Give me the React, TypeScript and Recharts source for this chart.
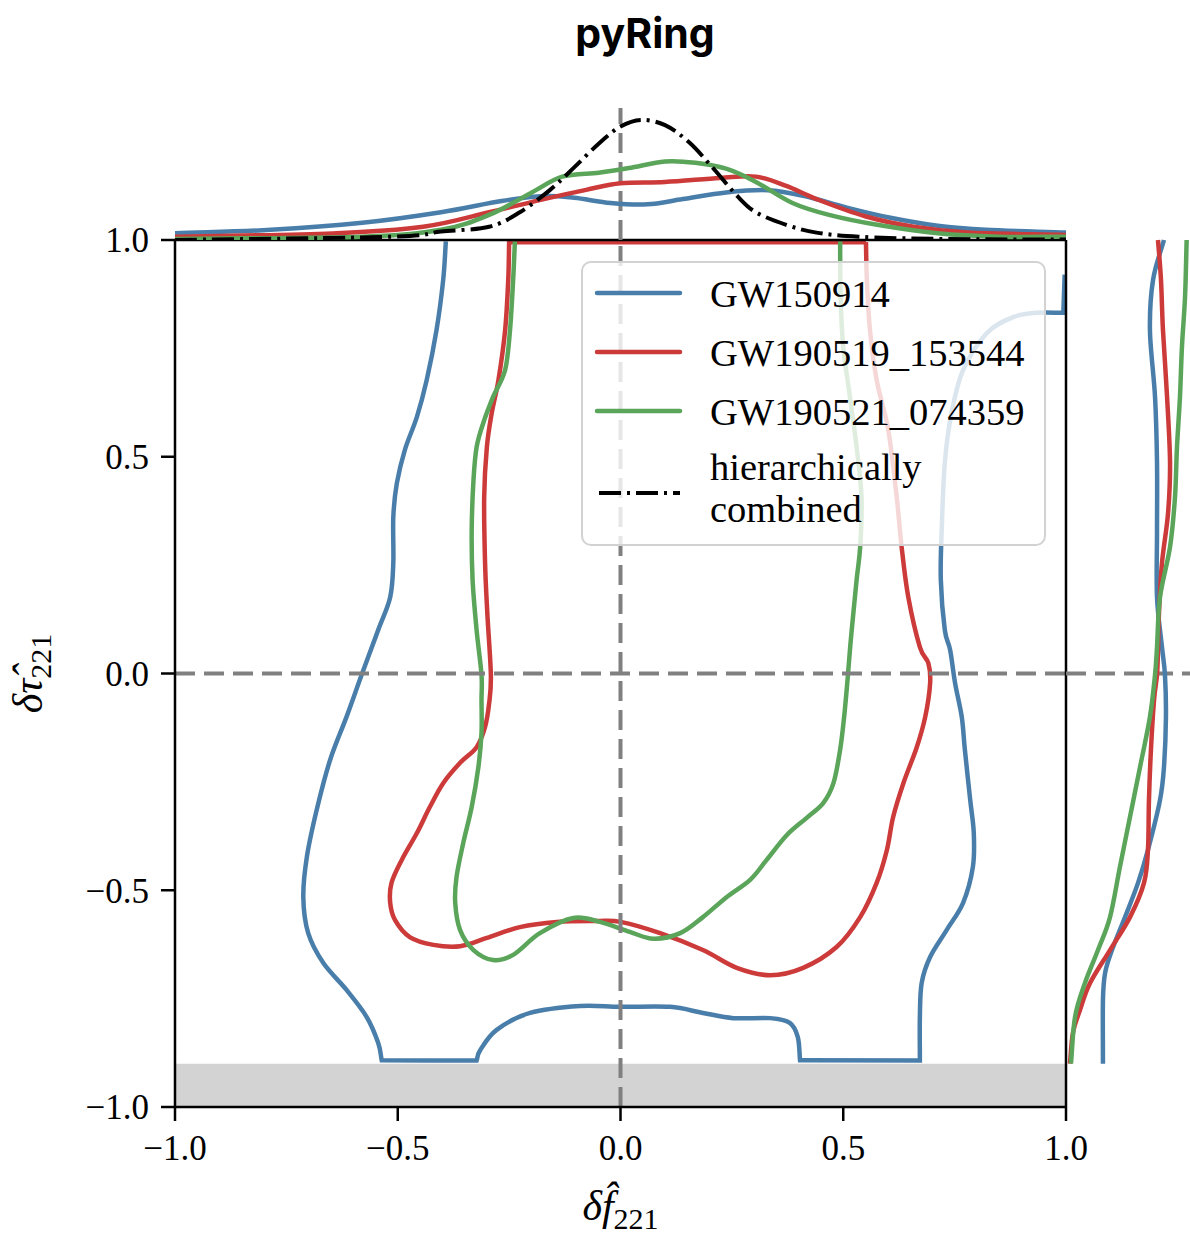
import React from 'react';
import { LineChart, Line, XAxis, YAxis, ReferenceLine, ReferenceArea, Legend } from 'recharts';

// ---- axis ticks ----
const AXIS_TICKS = [-1, -0.5, 0, 0.5, 1];

// ---- series names ----
const SERIES_NAMES = ['GW150914', 'GW190519_153544', 'GW190521_074359'];
const COMBINED_LABEL = ['hierarchically', 'combined'];

// ---- 90% credible contours in the (δf̂221, δτ̂221) plane: [δf, δτ] ----
// a repeated point marks a corner of the contour
const GW150914_CONTOUR: [number, number][] = [
  [-0.392, 0.997], [-0.398, 0.908], [-0.413, 0.792], [-0.435, 0.677], [-0.457, 0.592], [-0.484, 0.516],
  [-0.502, 0.439], [-0.51, 0.361], [-0.51, 0.255], [-0.517, 0.176], [-0.544, 0.1], [-0.581, -0.003],
  [-0.615, -0.1], [-0.652, -0.2], [-0.682, -0.315], [-0.704, -0.423], [-0.712, -0.516], [-0.701, -0.599],
  [-0.667, -0.668], [-0.615, -0.73], [-0.57, -0.792], [-0.544, -0.852], [-0.536, -0.892], [-0.536, -0.892],
  [-0.323, -0.893], [-0.323, -0.893], [-0.315, -0.869], [-0.278, -0.822], [-0.203, -0.783], [-0.091, -0.767],
  [0.0, -0.769], [0.111, -0.769], [0.185, -0.783], [0.253, -0.795], [0.336, -0.795], [0.38, -0.806],
  [0.398, -0.839], [0.403, -0.892], [0.403, -0.892], [0.672, -0.893], [0.672, -0.893], [0.672, -0.792],
  [0.676, -0.714], [0.695, -0.654], [0.732, -0.592], [0.769, -0.529], [0.791, -0.446], [0.793, -0.368],
  [0.785, -0.292], [0.773, -0.176], [0.766, -0.1], [0.751, -0.022], [0.74, 0.054], [0.728, 0.1],
  [0.719, 0.216], [0.721, 0.331], [0.728, 0.486], [0.743, 0.601], [0.769, 0.7], [0.822, 0.785],
  [0.881, 0.822], [0.934, 0.832], [0.994, 0.832], [0.994, 0.832], [0.997, 0.92],
];

const GW190519_CONTOUR: [number, number][] = [
  [0.551, 0.995], [0.551, 0.995], [-0.25, 0.995], [-0.25, 0.995], [-0.252, 0.908], [-0.259, 0.792],
  [-0.274, 0.677], [-0.289, 0.601], [-0.3, 0.522], [-0.306, 0.407], [-0.304, 0.255], [-0.299, 0.14],
  [-0.291, -0.003], [-0.295, -0.07], [-0.304, -0.123], [-0.323, -0.17], [-0.36, -0.206], [-0.398, -0.253],
  [-0.428, -0.308], [-0.457, -0.368], [-0.491, -0.43], [-0.514, -0.483], [-0.517, -0.529], [-0.506, -0.569],
  [-0.473, -0.608], [-0.42, -0.626], [-0.36, -0.629], [-0.3, -0.61], [-0.226, -0.585], [-0.143, -0.573],
  [-0.054, -0.571], [0.0, -0.573], [0.089, -0.599], [0.185, -0.638], [0.261, -0.679], [0.336, -0.696],
  [0.41, -0.679], [0.485, -0.631], [0.538, -0.562], [0.575, -0.483], [0.598, -0.407], [0.612, -0.331],
  [0.635, -0.253], [0.665, -0.17], [0.684, -0.1], [0.695, -0.022], [0.691, 0.024], [0.672, 0.061],
  [0.646, 0.176], [0.631, 0.292], [0.62, 0.407], [0.601, 0.562], [0.575, 0.677], [0.56, 0.792],
  [0.553, 0.908], [0.551, 0.995],
];

const GW190521_CONTOUR: [number, number][] = [
  [-0.237, 0.997], [-0.241, 0.908], [-0.248, 0.792], [-0.259, 0.7], [-0.286, 0.638], [-0.308, 0.578],
  [-0.323, 0.522], [-0.33, 0.446], [-0.334, 0.331], [-0.332, 0.216], [-0.323, 0.1], [-0.312, -0.003],
  [-0.312, -0.061], [-0.312, -0.137], [-0.319, -0.216], [-0.334, -0.308], [-0.353, -0.391], [-0.368, -0.469],
  [-0.371, -0.529], [-0.36, -0.592], [-0.33, -0.638], [-0.286, -0.661], [-0.241, -0.649], [-0.181, -0.599],
  [-0.106, -0.564], [-0.046, -0.573], [0.021, -0.596], [0.074, -0.612], [0.134, -0.599], [0.185, -0.562],
  [0.238, -0.516], [0.291, -0.476], [0.328, -0.43], [0.373, -0.373], [0.418, -0.333], [0.455, -0.299],
  [0.478, -0.253], [0.493, -0.176], [0.502, -0.1], [0.509, -0.022], [0.515, 0.054], [0.519, 0.1],
  [0.53, 0.216], [0.538, 0.292], [0.541, 0.407], [0.53, 0.522], [0.515, 0.638], [0.5, 0.753],
  [0.494, 0.869], [0.493, 0.997],
];

// ---- marginal densities of δf̂221 (top panel): [δf, density] ----
const GW150914_DF_PDF: [number, number][] = [
  [-1, 0.051], [-0.785, 0.077], [-0.58, 0.13], [-0.403, 0.21], [-0.267, 0.295], [-0.172, 0.333],
  [-0.104, 0.32], [-0.022, 0.28], [0.06, 0.27], [0.14, 0.31], [0.237, 0.36], [0.331, 0.377],
  [0.413, 0.333], [0.508, 0.245], [0.603, 0.17], [0.712, 0.108], [0.82, 0.077], [1, 0.056],
];
const GW190519_DF_PDF: [number, number][] = [
  [-1, 0.025], [-0.647, 0.05], [-0.443, 0.1], [-0.295, 0.21], [-0.172, 0.31], [-0.077, 0.38],
  [0.0, 0.43], [0.1, 0.44], [0.223, 0.47], [0.304, 0.48], [0.372, 0.41], [0.44, 0.31],
  [0.549, 0.18], [0.658, 0.1], [0.78, 0.056], [1, 0.038],
];
const GW190521_DF_PDF: [number, number][] = [
  [-1, 0.008], [-0.58, 0.025], [-0.403, 0.077], [-0.295, 0.19], [-0.199, 0.36], [-0.131, 0.48],
  [-0.049, 0.51], [0.019, 0.545], [0.1, 0.595], [0.168, 0.585], [0.237, 0.54], [0.304, 0.44],
  [0.386, 0.28], [0.468, 0.19], [0.576, 0.115], [0.712, 0.051], [0.848, 0.025], [1, 0.025],
];
const COMBINED_DF_PDF: [number, number][] = [
  [-1, 0.0], [-0.513, 0.025], [-0.403, 0.064], [-0.295, 0.1], [-0.226, 0.21], [-0.158, 0.38],
  [-0.104, 0.55], [-0.049, 0.73], [0.0, 0.86], [0.046, 0.91], [0.1, 0.87], [0.154, 0.74],
  [0.209, 0.54], [0.263, 0.33], [0.304, 0.21], [0.372, 0.115], [0.44, 0.056], [0.535, 0.025],
  [0.713, 0.008], [1, 0.003],
];

// ---- marginal densities of δτ̂221 (right panel): [δτ, density] ----
const GW150914_DTAU_PDF: [number, number][] = [
  [1, 0.79], [0.908, 0.702], [0.792, 0.677], [0.638, 0.718], [0.486, 0.734], [0.331, 0.734],
  [0.176, 0.734], [0.061, 0.774], [-0.003, 0.798], [-0.1, 0.806], [-0.216, 0.79], [-0.292, 0.758],
  [-0.407, 0.661], [-0.483, 0.581], [-0.562, 0.476], [-0.638, 0.371], [-0.691, 0.315], [-0.753, 0.298],
  [-0.9, 0.298],
];
const GW190519_DTAU_PDF: [number, number][] = [
  [1, 0.742], [0.908, 0.766], [0.792, 0.782], [0.638, 0.815], [0.486, 0.839], [0.37, 0.823],
  [0.255, 0.774], [0.14, 0.75], [0.054, 0.742], [-0.003, 0.734], [-0.061, 0.71], [-0.176, 0.685],
  [-0.292, 0.669], [-0.407, 0.661], [-0.483, 0.629], [-0.562, 0.516], [-0.638, 0.355], [-0.714, 0.194],
  [-0.776, 0.113], [-0.829, 0.056], [-0.9, 0.032],
];
const GW190521_DTAU_PDF: [number, number][] = [
  [1, 0.973], [0.869, 0.96], [0.753, 0.935], [0.638, 0.919], [0.522, 0.895], [0.407, 0.879],
  [0.292, 0.839], [0.176, 0.758], [0.061, 0.734], [-0.003, 0.718], [-0.1, 0.677], [-0.216, 0.597],
  [-0.331, 0.516], [-0.446, 0.435], [-0.562, 0.355], [-0.638, 0.258], [-0.714, 0.153], [-0.792, 0.073],
  [-0.9, 0.04],
];

// lower prior bound on δτ̂221 (shaded band)
const DTAU_PRIOR_MIN = -0.9;

const COLORS = ['#4a7eaa', '#cc3a3a', '#5aa55a'];
const SERIF = '"Liberation Serif", "DejaVu Serif", serif';

const toXY = (pts: [number, number][]) => pts.map(([x, y]) => ({ x, y }));
const toDY = (pts: [number, number][]) => pts.map(([y, d]) => ({ d, y }));
const toXD = (pts: [number, number][]) => pts.map(([x, d]) => ({ x, d }));

const contours = [GW150914_CONTOUR, GW190519_CONTOUR, GW190521_CONTOUR].map(toXY);
const dfPdfs = [GW150914_DF_PDF, GW190519_DF_PDF, GW190521_DF_PDF].map(toXD);
const combinedPdf = toXD(COMBINED_DF_PDF);
const dtauPdfs = [GW150914_DTAU_PDF, GW190519_DTAU_PDF, GW190521_DTAU_PDF].map(toDY);

// Catmull-Rom curve factory: passes through every point and works for non-monotone paths.
// A point given twice in a row is treated as a sharp corner.
function catmullRom(context: any) {
  let raw: [number, number][] = [];
  return {
    areaStart() {},
    areaEnd() {},
    lineStart() {
      raw = [];
    },
    point(x: number, y: number) {
      raw.push([+x, +y]);
    },
    lineEnd() {
      if (!raw.length) return;
      const pts: [number, number][] = [];
      const corner: boolean[] = [];
      raw.forEach((p) => {
        const prev = pts[pts.length - 1];
        if (prev && Math.abs(prev[0] - p[0]) < 1e-6 && Math.abs(prev[1] - p[1]) < 1e-6) {
          corner[pts.length - 1] = true;
        } else {
          pts.push(p);
          corner.push(false);
        }
      });
      const n = pts.length;
      context.moveTo(pts[0][0], pts[0][1]);
      for (let i = 0; i < n - 1; i++) {
        const p0 = pts[Math.max(0, i - 1)];
        const p1 = pts[i];
        const p2 = pts[i + 1];
        const p3 = pts[Math.min(n - 1, i + 2)];
        const c1 = corner[i] || i === 0
          ? [p1[0] + (p2[0] - p1[0]) / 3, p1[1] + (p2[1] - p1[1]) / 3]
          : [p1[0] + (p2[0] - p0[0]) / 6, p1[1] + (p2[1] - p0[1]) / 6];
        const c2 = corner[i + 1] || i + 1 === n - 1
          ? [p2[0] - (p2[0] - p1[0]) / 3, p2[1] - (p2[1] - p1[1]) / 3]
          : [p2[0] - (p3[0] - p1[0]) / 6, p2[1] - (p3[1] - p1[1]) / 6];
        context.bezierCurveTo(c1[0], c1[1], c2[0], c2[1], p2[0], p2[1]);
      }
    },
  };
}

const fmtTick = (v: number) => (v < 0 ? '\u2212' : '') + Math.abs(v).toFixed(1);

const tickStyle = { fontFamily: SERIF, fontSize: 35, fill: '#000' };

const XAxisTitle = (props: any) => {
  const vb = props.viewBox || {};
  const cx = vb.x + vb.width / 2;
  return (
    <text x={cx} y={vb.y + 113} textAnchor="middle" fontFamily={SERIF} fontSize={42} fill="#000">
      <tspan fontStyle="italic">δ</tspan>
      <tspan fontStyle="italic">f̂</tspan>
      <tspan fontSize={30} dy={9}>221</tspan>
    </text>
  );
};

const YAxisTitle = (props: any) => {
  const vb = props.viewBox || {};
  const cy = vb.y + vb.height / 2;
  const x = vb.x + 42;
  return (
    <text
      x={x}
      y={cy}
      textAnchor="middle"
      transform={`rotate(-90, ${x}, ${cy})`}
      fontFamily={SERIF}
      fontSize={42}
      fill="#000"
    >
      <tspan fontStyle="italic">δ</tspan>
      <tspan fontStyle="italic">τ̂</tspan>
      <tspan fontSize={30} dy={9}>221</tspan>
    </text>
  );
};

const LINE_W = 4.5;

const LegendBox = () => {
  const rows = SERIES_NAMES.map((name, i) => ({ name, color: COLORS[i], y: 32 + i * 59 }));
  return (
    <svg width={465} height={285} style={{ display: 'block', overflow: 'visible' }}>
      <rect
        x={1}
        y={1}
        width={463}
        height={283}
        rx={9}
        ry={9}
        fill="rgba(255,255,255,0.8)"
        stroke="#d2d2d2"
        strokeWidth={2}
      />
      {rows.map((r) => (
        <g key={r.name}>
          <line x1={16} x2={99} y1={r.y} y2={r.y} stroke={r.color} strokeWidth={LINE_W} strokeLinecap="round" />
          <text x={129} y={r.y + 14} fontFamily={SERIF} fontSize={38.5} fill="#000">
            {r.name}
          </text>
        </g>
      ))}
      <line x1={18} x2={99} y1={232} y2={232} stroke="#000" strokeWidth={4} strokeDasharray="22 6 3 6" />
      <text x={129} y={219} fontFamily={SERIF} fontSize={38.5} fill="#000">
        {COMBINED_LABEL[0]}
      </text>
      <text x={129} y={261} fontFamily={SERIF} fontSize={38.5} fill="#000">
        {COMBINED_LABEL[1]}
      </text>
    </svg>
  );
};

export default function App() {
  return (
    <div style={{ position: 'absolute', left: 0, top: 0, width: 1190, height: 1238, background: '#fff' }}>
      {/* joint posterior panel */}
      <div style={{ position: 'absolute', left: 0, top: 0 }}>
        <LineChart width={1190} height={1238} margin={{ top: 240, right: 124, bottom: 0, left: 0 }}>
          <XAxis
            type="number"
            dataKey="x"
            domain={[-1, 1]}
            ticks={AXIS_TICKS}
            tickFormatter={fmtTick}
            height={131}
            tickSize={14}
            tickMargin={14}
            tick={tickStyle}
            axisLine={{ stroke: '#000', strokeWidth: 2.5 }}
            tickLine={{ stroke: '#000', strokeWidth: 2.5 }}
            label={{ content: (p: any) => <XAxisTitle {...p} /> }}
          />
          <YAxis
            type="number"
            dataKey="y"
            domain={[-1, 1]}
            ticks={AXIS_TICKS}
            tickFormatter={fmtTick}
            width={175}
            tickSize={14}
            tickMargin={12}
            tick={tickStyle}
            axisLine={{ stroke: '#000', strokeWidth: 2.5 }}
            tickLine={{ stroke: '#000', strokeWidth: 2.5 }}
            label={{ content: (p: any) => <YAxisTitle {...p} /> }}
          />
          <ReferenceArea y1={-1} y2={DTAU_PRIOR_MIN} x1={-1} x2={1} fill="#d3d3d3" fillOpacity={1} stroke="none" />
          {contours.map((data, i) => (
            <Line
              key={SERIES_NAMES[i]}
              name={SERIES_NAMES[i]}
              data={data}
              dataKey="y"
              type={catmullRom as any}
              stroke={COLORS[i]}
              strokeWidth={LINE_W}
              dot={false}
              activeDot={false}
              isAnimationActive={false}
            />
          ))}
          <ReferenceLine x={0} stroke="#808080" strokeWidth={4} strokeDasharray="20 9" />
          <ReferenceLine y={0} stroke="#808080" strokeWidth={4} strokeDasharray="20 9" />
          <ReferenceLine y={1} stroke="#000" strokeWidth={2.5} />
          <ReferenceLine x={1} stroke="#000" strokeWidth={2.5} />
          <Legend
            layout="horizontal"
            verticalAlign="middle"
            align="center"
            width={465}
            height={285}
            wrapperStyle={{ left: 581, top: 261, width: 465, height: 285 }}
            content={() => <LegendBox />}
          />
        </LineChart>
      </div>

      {/* right marginal: δτ̂221 */}
      <div style={{ position: 'absolute', left: 1066, top: 0 }}>
        <LineChart width={124} height={1238} margin={{ top: 240, right: 0, bottom: 131, left: 0 }}>
          <XAxis type="number" dataKey="d" domain={[0, 1]} hide />
          <YAxis type="number" dataKey="y" domain={[-1, 1]} hide />
          <ReferenceLine y={0} stroke="#808080" strokeWidth={4} strokeDasharray="20 9" />
          {dtauPdfs.map((data, i) => (
            <Line
              key={SERIES_NAMES[i]}
              data={data}
              dataKey="y"
              type={catmullRom as any}
              stroke={COLORS[i]}
              strokeWidth={LINE_W}
              dot={false}
              activeDot={false}
              isAnimationActive={false}
            />
          ))}
        </LineChart>
      </div>

      {/* top marginal: δf̂221 */}
      <div style={{ position: 'absolute', left: 0, top: 0 }}>
        <LineChart width={1190} height={240} margin={{ top: 108, right: 124, bottom: 0, left: 175 }}>
          <XAxis type="number" dataKey="x" domain={[-1, 1]} hide />
          <YAxis type="number" dataKey="d" domain={[0, 1]} hide />
          <ReferenceLine x={0} stroke="#808080" strokeWidth={4} strokeDasharray="20 9" />
          {dfPdfs.map((data, i) => (
            <Line
              key={SERIES_NAMES[i]}
              data={data}
              dataKey="d"
              type={catmullRom as any}
              stroke={COLORS[i]}
              strokeWidth={LINE_W}
              dot={false}
              activeDot={false}
              isAnimationActive={false}
            />
          ))}
          <Line
            data={combinedPdf}
            dataKey="d"
            type={catmullRom as any}
            stroke="#000"
            strokeWidth={4}
            strokeDasharray="22 6 3 6"
            dot={false}
            activeDot={false}
            isAnimationActive={false}
          />
        </LineChart>
      </div>

      <div
        style={{
          position: 'absolute',
          left: 0,
          width: 1290,
          top: 13,
          textAlign: 'center',
          fontFamily: 'Inter, "Open Sans", sans-serif',
          fontWeight: 700,
          fontSize: 41,
          lineHeight: '41px',
          color: '#000',
        }}
      >
        pyRing
      </div>
    </div>
  );
}
